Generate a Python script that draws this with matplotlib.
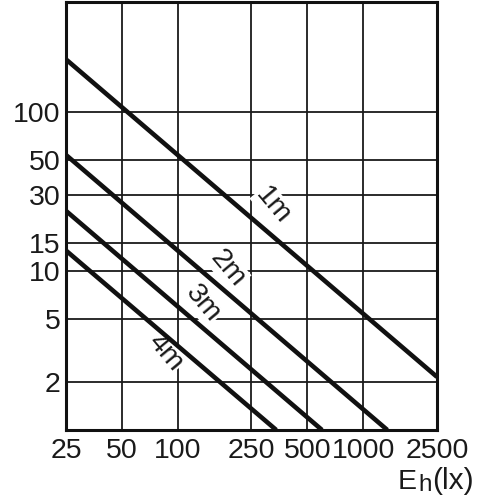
import matplotlib.pyplot as plt
from matplotlib.ticker import FixedLocator, NullLocator, FixedFormatter

plt.rcParams['font.family'] = ['Liberation Sans', 'DejaVu Sans']

# Illuminance (lx) vs value, one line per mounting distance
x_ticks = [25, 50, 100, 250, 500, 1000, 2500]
y_ticks = [2, 5, 10, 15, 30, 50, 100]

x_1m = [25, 2500]
y_1m = [216, 2.16]
x_2m = [25, 1350]
y_2m = [54, 1]
x_3m = [25, 600]
y_3m = [24, 1]
x_4m = [25, 340]
y_4m = [13.5, 1]

labels = ['1m', '2m', '3m', '4m']
label_x = [326, 187, 137, 86]
label_y = [26, 10.4, 6.25, 3.07]

fs = 20.5
ink = '#1a1a1a'

fig = plt.figure(figsize=(4.96, 4.96), dpi=100)
ax = fig.add_axes([66 / 496, 1 - 430 / 496, (437 - 66) / 496, (430 - 1.5) / 496])

ax.set_xscale('log')
ax.set_yscale('log')
ax.set_xlim(25, 2500)
ax.set_ylim(1, 500)

ax.xaxis.set_major_locator(FixedLocator(x_ticks))
ax.xaxis.set_major_formatter(FixedFormatter([str(v) for v in x_ticks]))
ax.xaxis.set_minor_locator(NullLocator())
ax.yaxis.set_major_locator(FixedLocator(y_ticks))
ax.yaxis.set_major_formatter(FixedFormatter([str(v) for v in y_ticks]))
ax.yaxis.set_minor_locator(NullLocator())
ax.tick_params(length=0, labelsize=fs, colors=ink)
ax.tick_params(axis='x', pad=6)
ax.tick_params(axis='y', pad=4)

ax.grid(True, color=ink, linewidth=1.3)
for s in ax.spines.values():
    s.set_linewidth(2.2)
    s.set_color('#111111')

for xs, ys in [(x_1m, y_1m), (x_2m, y_2m), (x_3m, y_3m), (x_4m, y_4m)]:
    ax.plot(xs, ys, color='#111111', linewidth=3.3, solid_capstyle='butt', zorder=4)

# labels sit under the lines but over the grid
for lab, lx, ly in zip(labels, label_x, label_y):
    ax.text(lx, ly, lab, fontsize=fs, rotation=-50, ha='center', va='center',
            color=ink, zorder=3,
            bbox=dict(facecolor='white', edgecolor='none', pad=0.5))

# axis title: E with a lowered, smaller h, then (lx)
base = 1 - 489 / 496
fig.text(398 / 496, base, 'E', fontsize=fs, ha='left', va='baseline', color=ink)
fig.text(418.5 / 496, base - 2 / 496, 'h', fontsize=fs - 3, ha='left', va='baseline', color=ink)
fig.text(474 / 496, base, '(lx)', fontsize=fs + 1, ha='right', va='baseline', color=ink)

fig.savefig('out.png', dpi=100)
